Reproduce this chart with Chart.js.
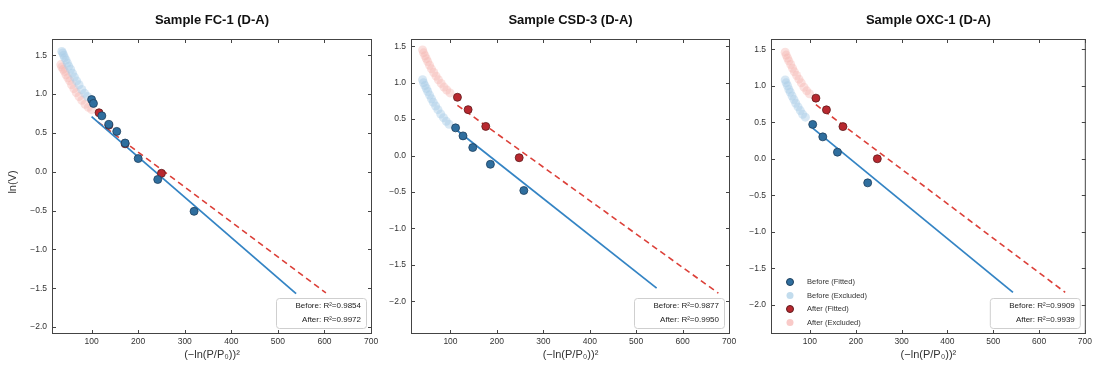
<!DOCTYPE html>
<html>
<head>
<meta charset="utf-8">
<script src="https://cdn.jsdelivr.net/npm/chart.js@4.4.0/dist/chart.umd.min.js"></script>
<style>
  body { margin: 0; background: #fff; }
  #wrap { position: relative; width: 1095px; height: 367px; }
  canvas { position: absolute; left: 0; top: 0; }
</style>
</head>
<body>
<div id="wrap">
  <canvas id="c1" width="1095" height="367"></canvas>
  <canvas id="c2" width="1095" height="367"></canvas>
  <canvas id="c3" width="1095" height="367"></canvas>
</div>
<script>
// tick labels
const xTicks = [100, 200, 300, 400, 500, 600, 700];
const yTicks = [-2.0, -1.5, -1.0, -0.5, 0.0, 0.5, 1.0, 1.5];

// Sample FC-1
const fcBeforeFit = [[100, 0.93], [104, 0.88], [122, 0.72], [137, 0.61], [154, 0.52], [172, 0.37], [200, 0.17], [242, -0.10], [320, -0.51]];
const fcAfterFit = [[116, 0.76], [137, 0.60], [172, 0.36], [250, -0.02]];
const fcBeforeExcl = [[36, 1.55], [38, 1.53], [40, 1.50], [42, 1.47], [45, 1.44], [48, 1.40], [51, 1.36], [55, 1.32], [59, 1.27], [63, 1.22], [68, 1.17], [73, 1.12], [79, 1.06], [85, 1.01], [91, 0.97]];
const fcAfterExcl = [[34, 1.38], [36, 1.35], [39, 1.32], [42, 1.29], [45, 1.25], [49, 1.21], [53, 1.17], [57, 1.12], [62, 1.07], [67, 1.02], [73, 0.97], [79, 0.92], [86, 0.87], [93, 0.83], [100, 0.80]];
const fcBeforeLine = [[100, 0.71], [539, -1.57]];
const fcAfterLine = [[114, 0.64], [603, -1.56]];
const fcR2 = ['0.9854', '0.9972'];

// Sample CSD-3
const csdBeforeFit = [[111, 0.38], [127, 0.27], [148, 0.11], [186, -0.12], [258, -0.48]];
const csdAfterFit = [[115, 0.80], [138, 0.63], [176, 0.40], [248, -0.03]];
const csdBeforeExcl = [[40, 1.04], [42, 1.00], [45, 0.96], [48, 0.92], [51, 0.88], [55, 0.83], [59, 0.78], [63, 0.73], [68, 0.68], [73, 0.63], [79, 0.57], [85, 0.52], [91, 0.47], [97, 0.43]];
const csdAfterExcl = [[40, 1.45], [42, 1.41], [45, 1.37], [48, 1.33], [51, 1.29], [55, 1.24], [59, 1.19], [64, 1.14], [69, 1.09], [74, 1.04], [80, 0.99], [86, 0.94], [92, 0.90], [99, 0.86]];
const csdBeforeLine = [[111, 0.36], [544, -1.82]];
const csdAfterLine = [[115, 0.69], [677, -1.89]];
const csdR2 = ['0.9877', '0.9950'];

// Sample OXC-1
const oxcBeforeFit = [[106, 0.47], [128, 0.30], [160, 0.09], [226, -0.33]];
const oxcAfterFit = [[113, 0.83], [136, 0.67], [172, 0.44], [247, 0.00]];
const oxcBeforeExcl = [[46, 1.08], [48, 1.04], [51, 1.00], [54, 0.95], [57, 0.91], [61, 0.86], [65, 0.81], [69, 0.76], [74, 0.71], [79, 0.66], [84, 0.61], [90, 0.57]];
const oxcAfterExcl = [[46, 1.46], [48, 1.42], [51, 1.38], [54, 1.34], [58, 1.29], [62, 1.24], [66, 1.19], [71, 1.14], [76, 1.09], [81, 1.04], [87, 0.98], [93, 0.93], [99, 0.89]];
const oxcBeforeLine = [[106, 0.42], [543, -1.83]];
const oxcAfterLine = [[113, 0.74], [657, -1.83]];
const oxcR2 = ['0.9909', '0.9939'];

const FONT = '"Liberation Sans", Arial, sans-serif';
const BLUE_PT = '#2f6e9e', BLUE_EDGE = '#1d3f5d', BLUE_LINE = '#3484c4';
const RED_PT = '#b8282f', RED_EDGE = '#5e1a1c', RED_LINE = '#dc4039';
const BLUE_EX = 'rgba(168,205,230,0.45)', RED_EX = 'rgba(246,180,176,0.40)';

const legendItems = [
  { text: 'Before (Fitted)', fill: BLUE_PT, edge: BLUE_EDGE },
  { text: 'Before (Excluded)', fill: 'rgba(168,205,230,0.7)', edge: null },
  { text: 'After (Fitted)', fill: RED_PT, edge: RED_EDGE },
  { text: 'After (Excluded)', fill: 'rgba(246,180,176,0.7)', edge: null }
];

function toXY(arr) {
  return arr.map(p => ({ x: p[0], y: p[1] }));
}

function line(ctx, x1, y1, x2, y2) {
  ctx.beginPath();
  ctx.moveTo(x1, y1);
  ctx.lineTo(x2, y2);
  ctx.stroke();
}

// frame, inward ticks, titles, R2 box and legend
const panelDecor = {
  id: 'panelDecor',
  afterDraw(chart, args, o) {
    const ctx = chart.ctx, a = chart.chartArea;
    const xs = chart.scales.x, ys = chart.scales.y;
    ctx.save();
    ctx.strokeStyle = '#444';
    ctx.lineWidth = 1;
    ctx.strokeRect(a.left + 0.5, a.top + 0.5, a.right - a.left - 1, a.bottom - a.top - 1);
    xTicks.forEach(v => {
      const px = Math.round(xs.getPixelForValue(v)) + 0.5;
      if (px > a.right) return;
      line(ctx, px, a.bottom, px, a.bottom - 4);
      line(ctx, px, a.top, px, a.top + 4);
    });
    yTicks.forEach(v => {
      const py = Math.round(ys.getPixelForValue(v)) + 0.5;
      line(ctx, a.left, py, a.left + 4, py);
      line(ctx, a.right, py, a.right - 4, py);
    });

    ctx.fillStyle = '#111';
    ctx.textAlign = 'center';
    ctx.textBaseline = 'middle';
    ctx.font = 'bold 13px ' + FONT;
    ctx.fillText(o.title, (a.left + a.right) / 2, 20);
    ctx.font = '11px ' + FONT;
    ctx.fillStyle = '#333';
    ctx.fillText('(\u2212ln(P/P\u2080))\u00b2', (a.left + a.right) / 2, 355);
    if (o.yLabel) {
      ctx.save();
      ctx.translate(13, 182);
      ctx.rotate(-Math.PI / 2);
      ctx.fillText(o.yLabel, 0, 0);
      ctx.restore();
    }

    // R2 box
    const w = 90, h = 30;
    const bx = a.right - 6 - w, by = a.bottom - 6 - h;
    ctx.beginPath();
    ctx.roundRect(bx + 0.5, by + 0.5, w, h, 3);
    ctx.fillStyle = 'rgba(255,255,255,0.85)';
    ctx.fill();
    ctx.strokeStyle = '#cfcfcf';
    ctx.stroke();
    ctx.font = '8px ' + FONT;
    ctx.fillStyle = '#222';
    ctx.textAlign = 'right';
    ctx.fillText('Before: R\u00b2=' + o.r2[0], bx + w - 5, by + 8);
    ctx.fillText('After: R\u00b2=' + o.r2[1], bx + w - 5, by + 22);

    if (o.legend) {
      ctx.textAlign = 'left';
      ctx.font = '7.5px ' + FONT;
      legendItems.forEach((it, i) => {
        const ly = 282 + i * 13.5;
        ctx.beginPath();
        ctx.arc(a.left + 19, ly, 3.5, 0, Math.PI * 2);
        ctx.fillStyle = it.fill;
        ctx.fill();
        if (it.edge) {
          ctx.strokeStyle = it.edge;
          ctx.stroke();
        }
        ctx.fillStyle = '#333';
        ctx.fillText(it.text, a.left + 36, ly);
      });
    }
    ctx.restore();
  }
};

function makePanel(id, p) {
  const tickFont = { family: FONT, size: 8.5 };
  new Chart(document.getElementById(id), {
    type: 'scatter',
    data: {
      datasets: [
        { label: 'Before (Excluded)', data: toXY(p.beforeExcl), backgroundColor: BLUE_EX, borderWidth: 0, pointRadius: 4.5, order: 3 },
        { label: 'After (Excluded)', data: toXY(p.afterExcl), backgroundColor: RED_EX, borderWidth: 0, pointRadius: 4.5, order: 3 },
        { label: 'Before fit', data: toXY(p.beforeLine), showLine: true, borderColor: BLUE_LINE, borderWidth: 1.8, pointRadius: 0, order: 2 },
        { label: 'After fit', data: toXY(p.afterLine), showLine: true, borderColor: RED_LINE, borderWidth: 1.6, borderDash: [6, 4], pointRadius: 0, order: 2 },
        { label: 'After (Fitted)', data: toXY(p.afterFit), backgroundColor: RED_PT, borderColor: RED_EDGE, borderWidth: 0.8, pointRadius: 4, order: 1 },
        { label: 'Before (Fitted)', data: toXY(p.beforeFit), backgroundColor: BLUE_PT, borderColor: BLUE_EDGE, borderWidth: 0.8, pointRadius: 4, order: 0 }
      ]
    },
    options: {
      responsive: false,
      animation: false,
      events: [],
      layout: { padding: { left: p.left - 40, right: 1095 - p.right, top: 39, bottom: 0 } },
      plugins: {
        legend: { display: false },
        tooltip: { enabled: false },
        panelDecor: { title: p.title, r2: p.r2, yLabel: p.yLabel, legend: p.legend }
      },
      scales: {
        x: {
          type: 'linear', min: 15, max: 702,
          grid: { display: false, drawTicks: false, tickLength: 0 }, border: { display: false },
          afterBuildTicks: s => { s.ticks = xTicks.map(v => ({ value: v })); },
          afterFit: s => { s.height = 33; },
          ticks: { padding: 3, font: tickFont, color: '#333', maxRotation: 0, callback: v => String(v) }
        },
        y: {
          type: 'linear', min: p.ymin, max: p.ymax,
          grid: { display: false, drawTicks: false, tickLength: 0 }, border: { display: false },
          afterBuildTicks: s => { s.ticks = yTicks.map(v => ({ value: v })); },
          afterFit: s => { s.width = 40; },
          ticks: { padding: 5, font: tickFont, color: '#333', callback: v => v.toFixed(1).replace('-', '\u2212') }
        }
      }
    },
    plugins: [panelDecor]
  });
}

makePanel('c1', {
  title: 'Sample FC-1 (D-A)', yLabel: 'ln(V)', left: 52, right: 372, ymin: -2.09, ymax: 1.71,
  beforeFit: fcBeforeFit, afterFit: fcAfterFit, beforeExcl: fcBeforeExcl, afterExcl: fcAfterExcl,
  beforeLine: fcBeforeLine, afterLine: fcAfterLine, r2: fcR2
});
makePanel('c2', {
  title: 'Sample CSD-3 (D-A)', left: 411, right: 730, ymin: -2.45, ymax: 1.6,
  beforeFit: csdBeforeFit, afterFit: csdAfterFit, beforeExcl: csdBeforeExcl, afterExcl: csdAfterExcl,
  beforeLine: csdBeforeLine, afterLine: csdAfterLine, r2: csdR2
});
makePanel('c3', {
  title: 'Sample OXC-1 (D-A)', left: 771, right: 1092, ymin: -2.4, ymax: 1.64, legend: true,
  beforeFit: oxcBeforeFit, afterFit: oxcAfterFit, beforeExcl: oxcBeforeExcl, afterExcl: oxcAfterExcl,
  beforeLine: oxcBeforeLine, afterLine: oxcAfterLine, r2: oxcR2
});
</script>
</body>
</html>
